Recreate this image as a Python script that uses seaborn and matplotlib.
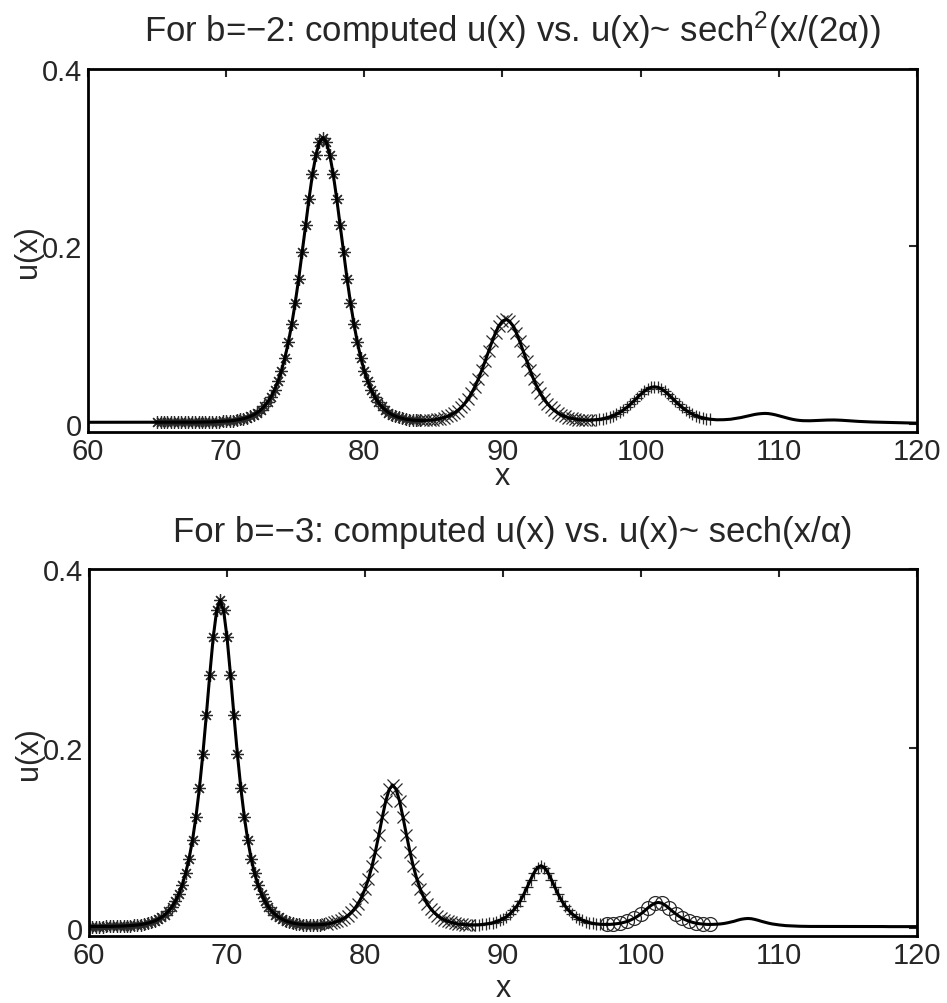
import numpy as np
import pandas as pd
import matplotlib
matplotlib.use("Agg")
import matplotlib.pyplot as plt
import seaborn as sns

# ---------------- data ----------------
X_START, X_STEP = 60.0, 0.25

# b = -2 : computed u(x) on a 0.25 grid from x=60 to x=120
top_u = (
    [0.0015] * 31 +
    [0.0016, 0.0017, 0.0017, 0.0018, 0.0018, 0.0019, 0.0021, 0.0022, 0.0024, 0.0027,
     0.0030, 0.0034, 0.0040, 0.0047, 0.0056, 0.0067, 0.0082] +
    [0.0100, 0.0124, 0.0155, 0.0193, 0.0242, 0.0303, 0.0380, 0.0476, 0.0595, 0.0740,
     0.0915, 0.1123, 0.1363, 0.1635, 0.1930, 0.2238, 0.2539, 0.2813, 0.3032, 0.3175, 0.3225] +
    [0.3175, 0.3032, 0.2813, 0.2539, 0.2238, 0.1930, 0.1635, 0.1363, 0.1123, 0.0915, 0.0740] +
    [0.0595, 0.0476, 0.0380, 0.0303, 0.0243, 0.0194, 0.0156, 0.0125, 0.0101, 0.0084,
     0.0069, 0.0059, 0.0050, 0.0044, 0.0039, 0.0037, 0.0036] +
    [0.0035, 0.0037, 0.0040, 0.0043, 0.0049, 0.0057, 0.0067, 0.0081, 0.0098, 0.0120,
     0.0147, 0.0182, 0.0225, 0.0277, 0.0340, 0.0415, 0.0502, 0.0600, 0.0707, 0.0818,
     0.0927, 0.1026, 0.1105, 0.1157, 0.1175] +
    [0.1157, 0.1105, 0.1026, 0.0927, 0.0818, 0.0707, 0.0600, 0.0502, 0.0415, 0.0340,
     0.0278, 0.0226, 0.0183, 0.0148, 0.0120, 0.0099, 0.0081, 0.0068, 0.0058, 0.0051,
     0.0045, 0.0042, 0.0041, 0.0040] +
    [0.0041, 0.0044, 0.0048, 0.0055, 0.0064, 0.0075, 0.0089, 0.0107, 0.0128, 0.0154,
     0.0183, 0.0217, 0.0254, 0.0292, 0.0330, 0.0364, 0.0391, 0.0409, 0.0415] +
    [0.0409, 0.0391, 0.0364, 0.0330, 0.0292, 0.0254, 0.0217, 0.0183, 0.0154, 0.0128,
     0.0107, 0.0090, 0.0075, 0.0065, 0.0057, 0.0050, 0.0046, 0.0043, 0.0043, 0.0044,
     0.0046, 0.0049, 0.0055, 0.0061, 0.0068, 0.0077, 0.0086, 0.0095, 0.0103, 0.0109,
     0.0113, 0.0115] +
    [0.0113, 0.0107, 0.0099, 0.0089, 0.0078, 0.0067, 0.0057, 0.0048, 0.0041, 0.0036,
     0.0033, 0.0032, 0.0032, 0.0033, 0.0035, 0.0037, 0.0039, 0.0040, 0.0041, 0.0041,
     0.0040, 0.0038, 0.0036, 0.0033, 0.0030, 0.0027, 0.0025, 0.0023, 0.0021, 0.0019,
     0.0018, 0.0017] +
    [0.0016, 0.0015, 0.0014, 0.0013, 0.0012, 0.0011, 0.0010, 0.0009, 0.0008, 0.0007,
     0.0006, 0.0005]
)

# b = -3 : computed u(x) on a 0.25 grid from x=60 to x=120
bot_u = (
    [0.0011] * 5 +
    [0.0012, 0.0012, 0.0013, 0.0014, 0.0015, 0.0017, 0.0019, 0.0021, 0.0024, 0.0028,
     0.0033, 0.0040, 0.0048, 0.0059, 0.0073, 0.0091, 0.0114, 0.0143, 0.0181, 0.0230,
     0.0292, 0.0372, 0.0473, 0.0604, 0.0769, 0.0978, 0.1238, 0.1557, 0.1938, 0.2369,
     0.2821, 0.3238, 0.3539] +
    [0.3650] +
    [0.3539, 0.3238, 0.2821, 0.2369, 0.1938, 0.1557, 0.1238, 0.0978, 0.0769, 0.0604] +
    [0.0474, 0.0373, 0.0293, 0.0231, 0.0182, 0.0144, 0.0115, 0.0092, 0.0074, 0.0061,
     0.0050, 0.0043, 0.0037, 0.0033, 0.0030, 0.0029, 0.0029, 0.0030, 0.0032, 0.0035,
     0.0040, 0.0047, 0.0057, 0.0069, 0.0085, 0.0106, 0.0133] +
    [0.0168, 0.0211, 0.0268, 0.0339, 0.0430, 0.0543, 0.0682, 0.0847, 0.1034, 0.1230,
     0.1411, 0.1542, 0.1590] +
    [0.1542, 0.1411, 0.1230, 0.1034, 0.0847, 0.0682, 0.0543, 0.0430, 0.0339, 0.0268, 0.0211] +
    [0.0168, 0.0133, 0.0106, 0.0085, 0.0070, 0.0057, 0.0048, 0.0040, 0.0035, 0.0033,
     0.0030, 0.0029, 0.0030, 0.0031, 0.0034, 0.0039, 0.0045, 0.0053, 0.0065, 0.0079,
     0.0098, 0.0122] +
    [0.0153, 0.0191, 0.0239, 0.0299, 0.0370, 0.0451, 0.0535, 0.0613, 0.0669, 0.0690] +
    [0.0669, 0.0613, 0.0535, 0.0451, 0.0370, 0.0299, 0.0240, 0.0192, 0.0153, 0.0122,
     0.0099, 0.0080, 0.0066, 0.0055, 0.0047, 0.0041, 0.0037, 0.0035, 0.0035, 0.0035,
     0.0038, 0.0043, 0.0048, 0.0057, 0.0069, 0.0084, 0.0103, 0.0126] +
    [0.0154, 0.0185, 0.0219, 0.0249, 0.0272, 0.0280] +
    [0.0272, 0.0249, 0.0219, 0.0185, 0.0154, 0.0126, 0.0102, 0.0084, 0.0069, 0.0057,
     0.0048, 0.0042, 0.0038, 0.0035, 0.0034, 0.0035, 0.0037, 0.0040, 0.0045, 0.0052,
     0.0061, 0.0070, 0.0082, 0.0092, 0.0098, 0.0101] +
    [0.0098, 0.0090, 0.0080, 0.0068, 0.0058, 0.0048, 0.0040, 0.0034, 0.0029, 0.0025,
     0.0021, 0.0019, 0.0017, 0.0015, 0.0014, 0.0013, 0.0013] +
    [0.0012] * 12 + [0.0011] * 10 + [0.0010] * 10
)

# fitted-profile windows: (marker, x from, x to, take every n-th grid point)
top_windows = [("*", 65.0, 84.0, 1), ("x", 84.25, 96.25, 1), ("+", 96.5, 105.0, 1)]
bot_windows = [("*", 60.0, 77.0, 1), ("x", 77.25, 87.5, 1), ("+", 87.75, 97.5, 1),
               ("o", 97.5, 105.0, 2)]

titles = ["For b=\u22122: computed u(x) vs. u(x)~ sech$^{2}$(x/(2\u03b1))",
          "For b=\u22123: computed u(x) vs. u(x)~ sech(x/\u03b1)"]
x_ticks = [60, 70, 80, 90, 100, 110, 120]
y_ticks = [0, 0.2, 0.4]
y_ticklabels = ["0", "0.2", "0.4"]

# ---------------- style ----------------
sns.set_style("white")
plt.rcParams["font.family"] = ["Liberation Sans", "DejaVu Sans"]
plt.rcParams["mathtext.fontset"] = "custom"
plt.rcParams["mathtext.rm"] = "Liberation Sans"
plt.rcParams["mathtext.it"] = "Liberation Sans:italic"
plt.rcParams["mathtext.bf"] = "Liberation Sans:bold"

MARKERS = {"*": (8, 2, 0), "x": "x", "+": "+", "o": "o"}

fig = plt.figure(figsize=(9.47, 10.04), dpi=100)
ax_top = fig.add_axes([0.0929, 0.5687, 0.8754, 0.3616])
ax_bot = fig.add_axes([0.0940, 0.0667, 0.8744, 0.3655])


def draw(ax, u, windows, title, xlab_y):
    x = X_START + X_STEP * np.arange(len(u))
    df = pd.DataFrame({"x": x, "u": u})
    for m, lo, hi, step in windows:
        sel = df[(df["x"] >= lo - 1e-9) & (df["x"] <= hi + 1e-9)].iloc[::step]
        sns.lineplot(data=sel, x="x", y="u", ax=ax, estimator=None, sort=False,
                     linestyle="none", marker=MARKERS[m],
                     markersize=10 if m == "o" else 9,
                     markeredgecolor="#2a2a2a", markerfacecolor="none",
                     markeredgewidth=0.9, zorder=2)
    sns.lineplot(data=df, x="x", y="u", ax=ax, estimator=None, sort=False,
                 color="black", linewidth=2.2, zorder=3)
    ax.set_xlim(60, 120)
    ax.set_ylim(-0.0095, 0.4)
    ax.set_xticks(x_ticks)
    ax.set_xticklabels([str(t) for t in x_ticks])
    ax.set_yticks(y_ticks)
    ax.set_yticklabels(y_ticklabels)
    ax.tick_params(direction="in", length=6, width=1.5, labelsize=21,
                   top=True, right=True)
    ax.tick_params(axis="x", pad=3.5)
    ax.tick_params(axis="y", pad=4)
    for sp in ax.spines.values():
        sp.set_visible(True)
        sp.set_linewidth(2.0)
        sp.set_color("black")
    ax.set_xlabel("x", fontsize=22, va="center")
    ax.set_ylabel("u(x)", fontsize=22)
    ax.xaxis.set_label_coords(0.5, xlab_y)
    ax.yaxis.set_label_coords(-0.054, 0.5)
    ax.set_title(title, fontsize=25, pad=20, x=0.512)
    ax.grid(False)


draw(ax_top, top_u, top_windows, titles[0], -0.12)
draw(ax_bot, bot_u, bot_windows, titles[1], -0.142)

fig.savefig("out.png", dpi=100, facecolor="white")
